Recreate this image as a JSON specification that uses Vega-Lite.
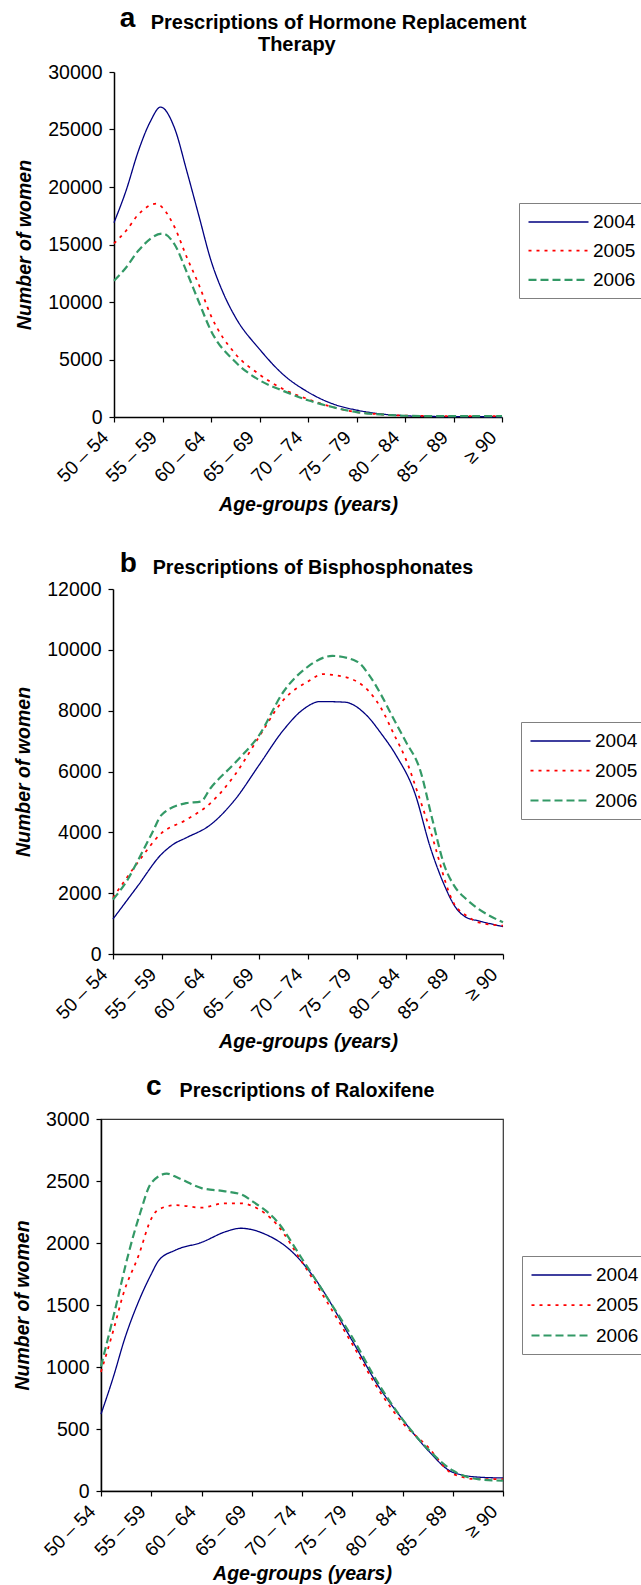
{
  "$schema": "https://vega.github.io/schema/vega-lite/v6.json",
  "background": "white",
  "padding": {"left": 12, "top": 5, "right": 0, "bottom": 0},
  "datasets": {
    "hrt": [
      {"age": 0, "year": "2004", "n": 16900}, {"age": 0.25, "year": "2004", "n": 19700}, {"age": 0.5, "year": "2004", "n": 23100}, {"age": 0.75, "year": "2004", "n": 25700}, {"age": 0.96, "year": "2004", "n": 26950}, {"age": 1.25, "year": "2004", "n": 25100}, {"age": 1.5, "year": "2004", "n": 21400}, {"age": 1.75, "year": "2004", "n": 17500}, {"age": 2, "year": "2004", "n": 13600}, {"age": 2.25, "year": "2004", "n": 10800}, {"age": 2.5, "year": "2004", "n": 8700}, {"age": 3, "year": "2004", "n": 5900}, {"age": 3.5, "year": "2004", "n": 3650}, {"age": 4, "year": "2004", "n": 2170}, {"age": 4.5, "year": "2004", "n": 1160}, {"age": 5, "year": "2004", "n": 600}, {"age": 5.5, "year": "2004", "n": 270}, {"age": 6, "year": "2004", "n": 110}, {"age": 6.5, "year": "2004", "n": 50}, {"age": 7, "year": "2004", "n": 30}, {"age": 7.5, "year": "2004", "n": 25}, {"age": 8, "year": "2004", "n": 20},
      {"age": 0, "year": "2005", "n": 15100}, {"age": 0.25, "year": "2005", "n": 16200}, {"age": 0.5, "year": "2005", "n": 17600}, {"age": 0.88, "year": "2005", "n": 18550}, {"age": 1, "year": "2005", "n": 18200}, {"age": 1.25, "year": "2005", "n": 16500}, {"age": 1.5, "year": "2005", "n": 13900}, {"age": 1.75, "year": "2005", "n": 11500}, {"age": 2, "year": "2005", "n": 8800}, {"age": 2.5, "year": "2005", "n": 5500}, {"age": 3, "year": "2005", "n": 3700}, {"age": 3.5, "year": "2005", "n": 2400}, {"age": 4, "year": "2005", "n": 1550}, {"age": 4.5, "year": "2005", "n": 870}, {"age": 5, "year": "2005", "n": 430}, {"age": 5.5, "year": "2005", "n": 230}, {"age": 6, "year": "2005", "n": 120}, {"age": 6.5, "year": "2005", "n": 90}, {"age": 7, "year": "2005", "n": 80}, {"age": 7.5, "year": "2005", "n": 80}, {"age": 8, "year": "2005", "n": 80},
      {"age": 0, "year": "2006", "n": 11850}, {"age": 0.25, "year": "2006", "n": 13000}, {"age": 0.5, "year": "2006", "n": 14450}, {"age": 1, "year": "2006", "n": 15950}, {"age": 1.25, "year": "2006", "n": 15000}, {"age": 1.5, "year": "2006", "n": 12600}, {"age": 1.75, "year": "2006", "n": 10000}, {"age": 2, "year": "2006", "n": 7500}, {"age": 2.5, "year": "2006", "n": 4800}, {"age": 3, "year": "2006", "n": 3200}, {"age": 3.5, "year": "2006", "n": 2250}, {"age": 4, "year": "2006", "n": 1450}, {"age": 4.5, "year": "2006", "n": 870}, {"age": 5, "year": "2006", "n": 430}, {"age": 5.5, "year": "2006", "n": 220}, {"age": 6, "year": "2006", "n": 110}, {"age": 6.5, "year": "2006", "n": 80}, {"age": 7, "year": "2006", "n": 70}, {"age": 7.5, "year": "2006", "n": 70}, {"age": 8, "year": "2006", "n": 70}
    ],
    "bis": [
      {"age": 0, "year": "2004", "n": 1150}, {"age": 0.5, "year": "2004", "n": 2220}, {"age": 1, "year": "2004", "n": 3290}, {"age": 1.25, "year": "2004", "n": 3620}, {"age": 1.5, "year": "2004", "n": 3820}, {"age": 2, "year": "2004", "n": 4250}, {"age": 2.5, "year": "2004", "n": 5070}, {"age": 3, "year": "2004", "n": 6220}, {"age": 3.5, "year": "2004", "n": 7370}, {"age": 3.9, "year": "2004", "n": 8040}, {"age": 4.25, "year": "2004", "n": 8300}, {"age": 4.75, "year": "2004", "n": 8280}, {"age": 5.2, "year": "2004", "n": 7850}, {"age": 5.5, "year": "2004", "n": 7250}, {"age": 5.8, "year": "2004", "n": 6550}, {"age": 6.2, "year": "2004", "n": 5250}, {"age": 6.5, "year": "2004", "n": 3550}, {"age": 6.8, "year": "2004", "n": 2250}, {"age": 7, "year": "2004", "n": 1600}, {"age": 7.25, "year": "2004", "n": 1200}, {"age": 7.5, "year": "2004", "n": 1090}, {"age": 8, "year": "2004", "n": 900},
      {"age": 0, "year": "2005", "n": 1850}, {"age": 0.5, "year": "2005", "n": 2990}, {"age": 1, "year": "2005", "n": 3980}, {"age": 1.5, "year": "2005", "n": 4410}, {"age": 2, "year": "2005", "n": 4960}, {"age": 2.5, "year": "2005", "n": 5890}, {"age": 3, "year": "2005", "n": 7150}, {"age": 3.5, "year": "2005", "n": 8360}, {"age": 4, "year": "2005", "n": 8960}, {"age": 4.3, "year": "2005", "n": 9200}, {"age": 4.5, "year": "2005", "n": 9180}, {"age": 5, "year": "2005", "n": 8960}, {"age": 5.5, "year": "2005", "n": 8080}, {"age": 5.77, "year": "2005", "n": 7200}, {"age": 6, "year": "2005", "n": 6430}, {"age": 6.25, "year": "2005", "n": 5300}, {"age": 6.5, "year": "2005", "n": 4100}, {"age": 7, "year": "2005", "n": 1640}, {"age": 7.25, "year": "2005", "n": 1260}, {"age": 7.5, "year": "2005", "n": 1040}, {"age": 8, "year": "2005", "n": 930},
      {"age": 0, "year": "2006", "n": 1790}, {"age": 0.32, "year": "2006", "n": 2500}, {"age": 0.5, "year": "2006", "n": 3040}, {"age": 0.8, "year": "2006", "n": 3970}, {"age": 1, "year": "2006", "n": 4580}, {"age": 1.5, "year": "2006", "n": 4960}, {"age": 1.8, "year": "2006", "n": 5010}, {"age": 2, "year": "2006", "n": 5450}, {"age": 2.5, "year": "2006", "n": 6280}, {"age": 3, "year": "2006", "n": 7200}, {"age": 3.5, "year": "2006", "n": 8630}, {"age": 4, "year": "2006", "n": 9450}, {"age": 4.5, "year": "2006", "n": 9800}, {"age": 5, "year": "2006", "n": 9620}, {"age": 5.25, "year": "2006", "n": 9180}, {"age": 5.5, "year": "2006", "n": 8520}, {"age": 5.75, "year": "2006", "n": 7750}, {"age": 6, "year": "2006", "n": 7000}, {"age": 6.3, "year": "2006", "n": 6050}, {"age": 6.55, "year": "2006", "n": 4430}, {"age": 6.8, "year": "2006", "n": 2900}, {"age": 7, "year": "2006", "n": 2240}, {"age": 7.25, "year": "2006", "n": 1800}, {"age": 7.5, "year": "2006", "n": 1480}, {"age": 8, "year": "2006", "n": 1040}
    ],
    "ral": [
      {"age": 0, "year": "2004", "n": 620}, {"age": 0.25, "year": "2004", "n": 925}, {"age": 0.47, "year": "2004", "n": 1226}, {"age": 0.75, "year": "2004", "n": 1530}, {"age": 1, "year": "2004", "n": 1749}, {"age": 1.15, "year": "2004", "n": 1860}, {"age": 1.48, "year": "2004", "n": 1942}, {"age": 2, "year": "2004", "n": 2005}, {"age": 2.5, "year": "2004", "n": 2094}, {"age": 2.78, "year": "2004", "n": 2119}, {"age": 3, "year": "2004", "n": 2108}, {"age": 3.25, "year": "2004", "n": 2074}, {"age": 3.79, "year": "2004", "n": 1934}, {"age": 4.24, "year": "2004", "n": 1722}, {"age": 5, "year": "2004", "n": 1212}, {"age": 5.53, "year": "2004", "n": 840}, {"age": 6, "year": "2004", "n": 578}, {"age": 6.5, "year": "2004", "n": 331}, {"age": 7, "year": "2004", "n": 151}, {"age": 7.5, "year": "2004", "n": 112}, {"age": 8, "year": "2004", "n": 105},
      {"age": 0, "year": "2005", "n": 960}, {"age": 0.25, "year": "2005", "n": 1301}, {"age": 0.45, "year": "2005", "n": 1597}, {"age": 0.75, "year": "2005", "n": 1901}, {"age": 1, "year": "2005", "n": 2195}, {"age": 1.15, "year": "2005", "n": 2272}, {"age": 1.5, "year": "2005", "n": 2305}, {"age": 2, "year": "2005", "n": 2285}, {"age": 2.45, "year": "2005", "n": 2320}, {"age": 2.8, "year": "2005", "n": 2320}, {"age": 3, "year": "2005", "n": 2300}, {"age": 3.5, "year": "2005", "n": 2149}, {"age": 4, "year": "2005", "n": 1846}, {"age": 5, "year": "2005", "n": 1185}, {"age": 5.53, "year": "2005", "n": 813}, {"age": 6, "year": "2005", "n": 551}, {"age": 6.5, "year": "2005", "n": 358}, {"age": 7, "year": "2005", "n": 138}, {"age": 7.5, "year": "2005", "n": 96}, {"age": 8, "year": "2005", "n": 96},
      {"age": 0, "year": "2006", "n": 1005}, {"age": 0.28, "year": "2006", "n": 1462}, {"age": 0.55, "year": "2006", "n": 1919}, {"age": 0.78, "year": "2006", "n": 2242}, {"age": 1, "year": "2006", "n": 2484}, {"age": 1.31, "year": "2006", "n": 2559}, {"age": 1.54, "year": "2006", "n": 2524}, {"age": 2, "year": "2006", "n": 2443}, {"age": 2.47, "year": "2006", "n": 2417}, {"age": 2.8, "year": "2006", "n": 2390}, {"age": 3, "year": "2006", "n": 2340}, {"age": 3.5, "year": "2006", "n": 2176}, {"age": 4, "year": "2006", "n": 1873}, {"age": 4.5, "year": "2006", "n": 1560}, {"age": 5, "year": "2006", "n": 1240}, {"age": 5.5, "year": "2006", "n": 880}, {"age": 6, "year": "2006", "n": 578}, {"age": 6.5, "year": "2006", "n": 340}, {"age": 7, "year": "2006", "n": 165}, {"age": 7.5, "year": "2006", "n": 96}, {"age": 8, "year": "2006", "n": 83}
    ]
  },
  "concat": [
    {
      "title": {"text": "a", "fontSize": 28, "anchor": "start", "frame": "bounds", "offset": 0, "dx": 105, "dy": 20},
      "resolve": {"scale": {"color": "independent", "strokeDash": "independent", "strokeWidth": "independent"}, "legend": {"color": "independent", "strokeDash": "independent", "strokeWidth": "independent"}},
      "vconcat": [
        {
          "title": {"text": ["Prescriptions of Hormone Replacement", "Therapy\u00a0\u00a0\u00a0\u00a0\u00a0\u00a0\u00a0\u00a0\u00a0\u00a0\u00a0\u00a0\u00a0\u00a0\u00a0\u200b"], "anchor": "middle", "frame": "group", "dx": 37, "offset": 7, "lineHeight": 22, "fontSize": 20},
          "width": 401,
          "height": 345,
          "view": {"stroke": null},
          "data": {"name": "hrt"},
          "encoding": {
            "x": {"field": "age", "type": "quantitative", "scale": {"domain": [0, 8], "range": [13, 401], "nice": false}, "axis": {"title": "Age-groups (years)", "values": [0, 1, 2, 3, 4, 5, 6, 7, 8], "labelExpr": "['50 – 54','55 – 59','60 – 64','65 – 69','70 – 74','75 – 79','80 – 84','85 – 89','≥ 90'][datum.value]"}},
            "y": {"field": "n", "type": "quantitative", "scale": {"domain": [0, 30000], "nice": false}, "axis": {"title": "Number of women", "values": [0, 5000, 10000, 15000, 20000, 25000, 30000], "format": "d", "offset": -13}}
          },
          "layer": [
            {
              "mark": {"type": "line", "interpolate": "monotone"},
              "encoding": {
                "color": {"field": "year", "type": "ordinal", "scale": {"domain": ["2004", "2005", "2006"], "range": ["#000080", "#ff0000", "#339966"]}, "legend": {"legendX": 418, "legendY": 131, "rowPadding": 7.7}},
                "strokeDash": {"field": "year", "type": "ordinal", "scale": {"domain": ["2004", "2005", "2006"], "range": [[1, 0], [3, 5], [8, 4]]}},
                "strokeWidth": {"field": "year", "type": "ordinal", "scale": {"domain": ["2004", "2005", "2006"], "range": [1.3, 2.2, 2.2]}}
              }
            },
            {
              "data": {"values": [{}]},
              "mark": {"type": "rule", "color": "#333333", "strokeWidth": 1.2},
              "encoding": {"x": {"datum": 0}, "x2": {"datum": 8}, "y": {"datum": 30000}}
            },
            {
              "data": {"values": [{}]},
              "mark": {"type": "rule", "color": "#333333", "strokeWidth": 1.2},
              "encoding": {"x": {"datum": 8}, "y": {"datum": 0}, "y2": {"datum": 30000}}
            }
          ]
        }
      ]
    },
    {
      "concat": [
        {
          "title": {"text": "b", "fontSize": 28, "anchor": "start", "frame": "bounds", "offset": 0, "dx": 106, "dy": 20},
          "resolve": {"scale": {"color": "independent", "strokeDash": "independent", "strokeWidth": "independent"}, "legend": {"color": "independent", "strokeDash": "independent", "strokeWidth": "independent"}},
          "vconcat": [
            {
              "title": {"text": "Prescriptions of Bisphosphonates", "anchor": "middle", "frame": "group", "dx": 11, "offset": 1},
              "width": 402,
              "height": 365,
              "view": {"stroke": null},
              "data": {"name": "bis"},
              "encoding": {
                "x": {"field": "age", "type": "quantitative", "scale": {"domain": [0, 8], "range": [12, 402], "nice": false}, "axis": {"title": "Age-groups (years)", "values": [0, 1, 2, 3, 4, 5, 6, 7, 8], "labelExpr": "['50 – 54','55 – 59','60 – 64','65 – 69','70 – 74','75 – 79','80 – 84','85 – 89','≥ 90'][datum.value]"}},
                "y": {"field": "n", "type": "quantitative", "scale": {"domain": [0, 12000], "nice": false}, "axis": {"title": "Number of women", "values": [0, 2000, 4000, 6000, 8000, 10000, 12000], "format": "d", "offset": -12}}
              },
              "layer": [
                {
                  "mark": {"type": "line", "interpolate": "monotone"},
                  "encoding": {
                    "color": {"field": "year", "type": "ordinal", "scale": {"domain": ["2004", "2005", "2006"], "range": ["#000080", "#ff0000", "#339966"]}, "legend": {"legendX": 420, "legendY": 133, "rowPadding": 8.5}},
                    "strokeDash": {"field": "year", "type": "ordinal", "scale": {"domain": ["2004", "2005", "2006"], "range": [[1, 0], [3, 5], [8, 4]]}},
                    "strokeWidth": {"field": "year", "type": "ordinal", "scale": {"domain": ["2004", "2005", "2006"], "range": [1.3, 2.2, 2.2]}}
                  }
                },
                {
                  "data": {"values": [{}]},
                  "mark": {"type": "rule", "color": "#333333", "strokeWidth": 1.2},
                  "encoding": {"x": {"datum": 0}, "x2": {"datum": 8}, "y": {"datum": 12000}}
                },
                {
                  "data": {"values": [{}]},
                  "mark": {"type": "rule", "color": "#333333", "strokeWidth": 1.2},
                  "encoding": {"x": {"datum": 8}, "y": {"datum": 0}, "y2": {"datum": 12000}}
                }
              ]
            }
          ]
        },
        {
          "title": {"text": "c", "fontSize": 28, "anchor": "start", "frame": "bounds", "offset": 0, "dx": 134, "dy": 20},
          "resolve": {"scale": {"color": "independent", "strokeDash": "independent", "strokeWidth": "independent"}, "legend": {"color": "independent", "strokeDash": "independent", "strokeWidth": "independent"}},
          "vconcat": [
            {
              "title": {"text": "Prescriptions of Raloxifene", "anchor": "middle", "frame": "group", "dx": 5, "offset": 8},
              "width": 402,
              "height": 372,
              "data": {"name": "ral"},
              "mark": {"type": "line", "interpolate": "monotone"},
              "encoding": {
                "x": {"field": "age", "type": "quantitative", "scale": {"domain": [0, 8], "nice": false}, "axis": {"title": "Age-groups (years)", "titlePadding": 5, "values": [0, 1, 2, 3, 4, 5, 6, 7, 8], "labelExpr": "['50 – 54','55 – 59','60 – 64','65 – 69','70 – 74','75 – 79','80 – 84','85 – 89','≥ 90'][datum.value]"}},
                "y": {"field": "n", "type": "quantitative", "scale": {"domain": [0, 3000], "nice": false}, "axis": {"title": "Number of women", "values": [0, 500, 1000, 1500, 2000, 2500, 3000], "format": "d"}},
                "color": {"field": "year", "type": "ordinal", "scale": {"domain": ["2004", "2005", "2006"], "range": ["#000080", "#ff0000", "#339966"]}, "legend": {"legendX": 421, "legendY": 137, "rowPadding": 9}},
                "strokeDash": {"field": "year", "type": "ordinal", "scale": {"domain": ["2004", "2005", "2006"], "range": [[1, 0], [3, 5], [8, 4]]}},
                "strokeWidth": {"field": "year", "type": "ordinal", "scale": {"domain": ["2004", "2005", "2006"], "range": [1.3, 2.2, 2.2]}}
              }
            }
          ]
        }
      ],
      "columns": 1,
      "align": "none",
      "spacing": 20,
      "resolve": {"scale": {"color": "independent", "strokeDash": "independent", "strokeWidth": "independent"}, "legend": {"color": "independent", "strokeDash": "independent", "strokeWidth": "independent"}}
    }
  ],
  "columns": 1,
  "align": "none",
  "spacing": 35,
  "resolve": {"scale": {"color": "independent", "strokeDash": "independent", "strokeWidth": "independent"}, "legend": {"color": "independent", "strokeDash": "independent", "strokeWidth": "independent"}},
  "config": {
    "font": "Liberation Sans",
    "view": {"stroke": "#333333", "strokeWidth": 1.2},
    "title": {"font": "Liberation Sans", "fontSize": 19.7, "fontWeight": "bold", "color": "black"},
    "axis": {"grid": false, "domainColor": "black", "domainWidth": 1.5, "tickColor": "black", "tickWidth": 1.2, "tickSize": 5, "labelFont": "Liberation Sans", "labelFontSize": 19.5, "labelColor": "black", "titleFont": "Liberation Sans", "titleFontSize": 19.5, "titleFontWeight": "bold", "titleFontStyle": "italic", "titleColor": "black"},
    "axisY": {"labelPadding": 7, "titlePadding": 13},
    "axisX": {"labelAngle": -45, "labelAlign": "right", "labelBaseline": "middle", "labelPadding": 12, "labelOffset": -9, "titlePadding": 10, "labelOverlap": false, "labelFontSize": 19},
    "legend": {"orient": "none", "title": null, "symbolType": "M-3,0H3", "symbolSize": 400, "symbolOffset": 20, "labelFont": "Liberation Sans", "labelFontSize": 19, "labelColor": "black", "labelOffset": 23, "labelLimit": 0, "strokeColor": "#808080", "fillColor": "white", "padding": 8, "rowPadding": 9.5}
  }
}
